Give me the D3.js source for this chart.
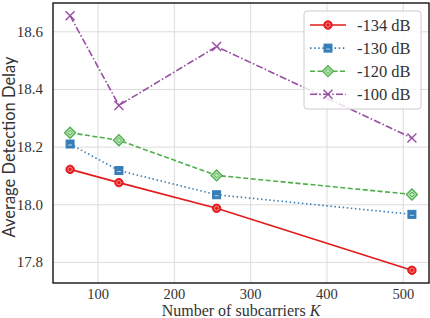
<!DOCTYPE html>
<html>
<head>
<meta charset="utf-8">
<script src="https://cdn.jsdelivr.net/npm/d3@7"></script>
<style>
  body { margin: 0; background: #fff; }
  svg { display: block; }
</style>
</head>
<body>
<svg id="container"></svg>
<script>
// data
var subcarriers = [64, 128, 256, 512];
var seriesNames = ["-134 dB", "-130 dB", "-120 dB", "-100 dB"];
var delay134 = [18.121, 18.075, 17.986, 17.771];
var delay130 = [18.209, 18.117, 18.033, 17.965];
var delay120 = [18.248, 18.222, 18.100, 18.034];
var delay100 = [18.654, 18.343, 18.547, 18.230];
var xTicks = [100, 200, 300, 400, 500];
var yTicks = [17.8, 18.0, 18.2, 18.4, 18.6];

var colors = ["#e41a1c", "#377eb8", "#4daf4a", "#984ea3"];
var dashes = [null, "1.5,2.6", "5,2.5", "7,2.2,1.6,2.2"];
var markers = ["circle", "square", "diamond", "cross"];

var allSeries = [delay134, delay130, delay120, delay100].map((vals, i) => ({
    name: seriesNames[i],
    color: colors[i],
    dash: dashes[i],
    marker: markers[i],
    values: vals.map((v, j) => ({x: subcarriers[j], y: v}))
}));

const W = 430, H = 318;
const margin = {top: 3, right: 1, bottom: 35, left: 53};
const w = W - margin.left - margin.right,
      h = H - margin.top - margin.bottom;

var svg = d3.select("#container").attr("width", W).attr("height", H);
var g = svg.append("g").attr("transform", "translate(" + margin.left + "," + margin.top + ")");

// matplotlib-like 5% padding
var xmin = d3.min(subcarriers), xmax = d3.max(subcarriers);
var allY = [].concat(delay134, delay130, delay120, delay100);
var ymin = d3.min(allY), ymax = d3.max(allY);
var xpad = (xmax - xmin) * 0.05, ypad = (ymax - ymin) * 0.05;

var xScale = d3.scaleLinear().domain([xmin - xpad, xmax + xpad]).range([0, w]);
var yScale = d3.scaleLinear().domain([ymin - ypad, ymax + ypad]).range([h, 0]);

// grid
g.append("g")
    .attr("transform", "translate(0," + h + ")")
    .call(d3.axisBottom(xScale).tickValues(xTicks).tickSize(-h).tickFormat(""))
    .call(a => a.select(".domain").remove())
    .call(a => a.selectAll("line").attr("stroke", "#dcdcdc").attr("stroke-width", 1));
g.append("g")
    .call(d3.axisLeft(yScale).tickValues(yTicks).tickSize(-w).tickFormat(""))
    .call(a => a.select(".domain").remove())
    .call(a => a.selectAll("line").attr("stroke", "#dcdcdc").attr("stroke-width", 1));

// tick labels
var xAxis = g.append("g")
    .attr("transform", "translate(0," + h + ")")
    .call(d3.axisBottom(xScale).tickValues(xTicks).tickSize(0).tickPadding(6).tickFormat(d3.format("d")));
xAxis.select(".domain").remove();
xAxis.selectAll("text").attr("font-family", "'Liberation Serif', serif").attr("font-size", 14.5).attr("fill", "#333");

var yAxis = g.append("g")
    .call(d3.axisLeft(yScale).tickValues(yTicks).tickSize(0).tickPadding(10).tickFormat(d3.format(".1f")));
yAxis.select(".domain").remove();
yAxis.selectAll("text").attr("font-family", "'Liberation Serif', serif").attr("font-size", 15).attr("fill", "#333");

// lines
var line = d3.line().x(d => xScale(d.x)).y(d => yScale(d.y));

function drawMarker(sel, type, color) {
    if (type === "circle") {
        sel.append("circle").attr("r", 4.2).attr("fill", color).attr("stroke", color).attr("stroke-width", 1);
        sel.append("circle").attr("r", 2.2).attr("fill", "none").attr("stroke", "#f7a8a8").attr("stroke-width", 0.8);
    } else if (type === "square") {
        sel.append("rect").attr("x", -4).attr("y", -4).attr("width", 8).attr("height", 8)
            .attr("fill", color).attr("stroke", color).attr("stroke-width", 1);
        sel.append("line").attr("x1", -2).attr("x2", 2).attr("y1", 1).attr("y2", 1)
            .attr("stroke", "#b9d4ee").attr("stroke-width", 1);
    } else if (type === "diamond") {
        sel.append("path").attr("d", "M0,-5.5L5.5,0L0,5.5L-5.5,0Z")
            .attr("fill", "#bfe6bd").attr("stroke", color).attr("stroke-width", 1.3);
        sel.append("path").attr("d", "M0,-2.5L2.5,0L0,2.5L-2.5,0Z")
            .attr("fill", "none").attr("stroke", color).attr("stroke-width", 1);
    } else {
        sel.append("path").attr("d", "M-4.5,-4.5L4.5,4.5M-4.5,4.5L4.5,-4.5")
            .attr("stroke", color).attr("stroke-width", 1.4).attr("fill", "none");
    }
}

allSeries.forEach(s => {
    g.append("path")
        .datum(s.values)
        .attr("d", line)
        .attr("fill", "none")
        .attr("stroke", s.color)
        .attr("stroke-width", 1.6)
        .attr("stroke-dasharray", s.dash);
    g.selectAll(null)
        .data(s.values)
        .enter()
        .append("g")
        .attr("transform", d => "translate(" + xScale(d.x) + "," + yScale(d.y) + ")")
        .each(function() { drawMarker(d3.select(this), s.marker, s.color); });
});

// spines
g.append("rect")
    .attr("width", w).attr("height", h)
    .attr("fill", "none").attr("stroke", "#000").attr("stroke-width", 1.3);

// legend
var legend = svg.append("g").attr("transform", "translate(304,11)");
legend.append("rect")
    .attr("width", 117).attr("height", 98).attr("rx", 3)
    .attr("fill", "#fff").attr("fill-opacity", 0.8)
    .attr("stroke", "#cccccc").attr("stroke-width", 1);
allSeries.forEach((s, i) => {
    var row = legend.append("g").attr("transform", "translate(0," + (14 + i * 23.1) + ")");
    row.append("line").attr("x1", 6).attr("x2", 42)
        .attr("stroke", s.color).attr("stroke-width", 1.6).attr("stroke-dasharray", s.dash);
    var m = row.append("g").attr("transform", "translate(24,0)");
    drawMarker(m, s.marker, s.color);
    row.append("text").attr("x", 53).attr("y", 0).attr("dy", "0.35em")
        .attr("font-family", "'Liberation Serif', serif").attr("font-size", 16.5)
        .attr("fill", "#333").text(s.name);
});

// axis labels
svg.append("text")
    .attr("transform", "translate(15,147) rotate(-90)")
    .attr("text-anchor", "middle")
    .attr("font-family", "Lato, sans-serif").attr("font-size", 16.5)
    .attr("fill", "#333").text("Average Detection Delay");

var xl = svg.append("text")
    .attr("x", margin.left + w / 2).attr("y", 316)
    .attr("text-anchor", "middle")
    .attr("font-family", "'Liberation Serif', serif").attr("font-size", 16)
    .attr("fill", "#333");
xl.append("tspan").text("Number of subcarriers ");
xl.append("tspan").attr("font-style", "italic").text("K");
</script>
</body>
</html>
